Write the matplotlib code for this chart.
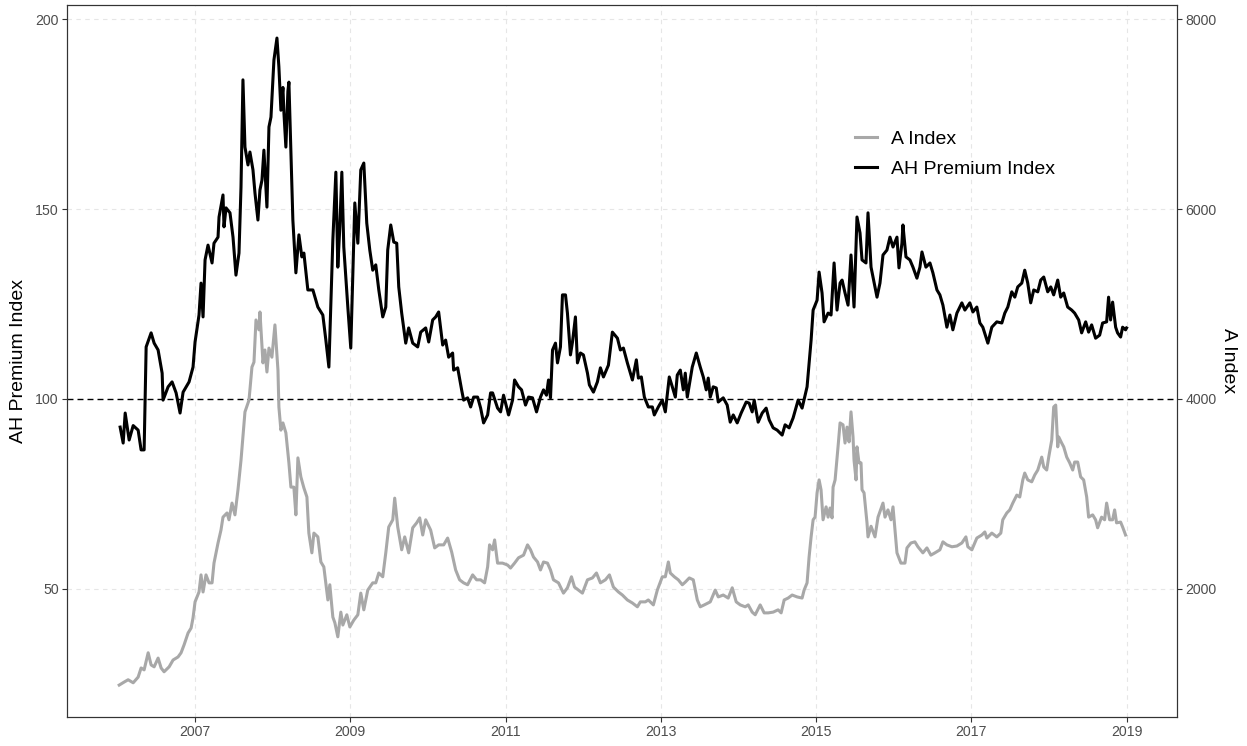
import matplotlib
matplotlib.use("Agg")
import matplotlib.pyplot as plt

plt.rcParams['font.family'] = ['Liberation Sans', 'DejaVu Sans']

# AH Premium Index (left axis)
ah_dates = [2006.035, 2006.074, 2006.100, 2006.151, 2006.203, 2006.267, 2006.305, 2006.344, 2006.370, 2006.434,
            2006.473, 2006.524, 2006.576, 2006.588, 2006.653, 2006.704, 2006.756, 2006.807, 2006.846, 2006.923,
            2006.974, 2007.000, 2007.051, 2007.077, 2007.103, 2007.129, 2007.167, 2007.219, 2007.244, 2007.296,
            2007.309, 2007.360, 2007.373, 2007.399, 2007.450, 2007.489, 2007.527, 2007.566, 2007.592, 2007.617,
            2007.643, 2007.682, 2007.707, 2007.746, 2007.772, 2007.810, 2007.836, 2007.862, 2007.887, 2007.926,
            2007.952, 2007.978, 2008.016, 2008.055, 2008.080, 2008.106, 2008.132, 2008.145, 2008.170, 2008.196,
            2008.209, 2008.222, 2008.260, 2008.299, 2008.338, 2008.376, 2008.402, 2008.453, 2008.518, 2008.582,
            2008.646, 2008.685, 2008.724, 2008.775, 2008.814, 2008.839, 2008.865, 2008.891, 2008.916, 2008.968,
            2009.006, 2009.058, 2009.097, 2009.135, 2009.174, 2009.212, 2009.251, 2009.289, 2009.328, 2009.367,
            2009.418, 2009.457, 2009.482, 2009.521, 2009.560, 2009.598, 2009.624, 2009.662, 2009.714, 2009.752,
            2009.804, 2009.868, 2009.907, 2009.971, 2010.010, 2010.061, 2010.100, 2010.138, 2010.190, 2010.228,
            2010.267, 2010.318, 2010.331, 2010.383, 2010.434, 2010.460, 2010.511, 2010.550, 2010.589, 2010.640,
            2010.679, 2010.717, 2010.769, 2010.807, 2010.833, 2010.897, 2010.936, 2010.974, 2011.039, 2011.090,
            2011.116, 2011.167, 2011.206, 2011.257, 2011.296, 2011.347, 2011.399, 2011.450, 2011.489, 2011.527,
            2011.553, 2011.579, 2011.605, 2011.643, 2011.669, 2011.707, 2011.733, 2011.772, 2011.797, 2011.836,
            2011.862, 2011.900, 2011.926, 2011.965, 2012.003, 2012.055, 2012.080, 2012.132, 2012.183, 2012.222,
            2012.261, 2012.325, 2012.376, 2012.441, 2012.479, 2012.518, 2012.569, 2012.634, 2012.685, 2012.711,
            2012.749, 2012.788, 2012.839, 2012.891, 2012.916, 2012.968, 2013.019, 2013.058, 2013.109, 2013.148,
            2013.187, 2013.212, 2013.251, 2013.290, 2013.315, 2013.341, 2013.405, 2013.457, 2013.508, 2013.547,
            2013.585, 2013.611, 2013.637, 2013.675, 2013.714, 2013.740, 2013.804, 2013.855, 2013.894, 2013.933,
            2013.984, 2014.035, 2014.100, 2014.138, 2014.177, 2014.203, 2014.254, 2014.306, 2014.357, 2014.396,
            2014.447, 2014.499, 2014.563, 2014.601, 2014.653, 2014.704, 2014.769, 2014.820, 2014.884, 2014.936,
            2014.962, 2015.013, 2015.039, 2015.077, 2015.103, 2015.155, 2015.193, 2015.232, 2015.270, 2015.309,
            2015.335, 2015.373, 2015.412, 2015.450, 2015.489, 2015.527, 2015.566, 2015.592, 2015.643, 2015.669,
            2015.708, 2015.733, 2015.785, 2015.823, 2015.862, 2015.913, 2015.952, 2015.991, 2016.042, 2016.068,
            2016.106, 2016.119, 2016.158, 2016.209, 2016.248, 2016.299, 2016.338, 2016.364, 2016.415, 2016.467,
            2016.505, 2016.557, 2016.595, 2016.634, 2016.685, 2016.724, 2016.762, 2016.814, 2016.878, 2016.917,
            2016.981, 2017.020, 2017.071, 2017.110, 2017.148, 2017.213, 2017.264, 2017.328, 2017.393, 2017.431,
            2017.470, 2017.521, 2017.560, 2017.598, 2017.650, 2017.688, 2017.727, 2017.765, 2017.804, 2017.856,
            2017.894, 2017.933, 2017.984, 2018.023, 2018.061, 2018.113, 2018.151, 2018.190, 2018.241, 2018.293,
            2018.331, 2018.383, 2018.421, 2018.473, 2018.511, 2018.550, 2018.601, 2018.653, 2018.691, 2018.743,
            2018.768, 2018.794, 2018.820, 2018.859, 2018.884, 2018.923, 2018.949, 2018.987, 2019.000]
ah_values = [92.6, 88.4, 96.3, 89.2, 93.0, 91.8, 86.6, 86.6, 113.7, 117.4,
             114.7, 112.9, 106.8, 99.7, 103.2, 104.5, 101.6, 96.3, 101.8, 104.5,
             108.4, 115.0, 122.1, 130.5, 121.6, 136.6, 140.5, 135.8, 141.0, 142.6,
             147.9, 153.7, 145.3, 150.3, 149.0, 142.6, 132.6, 138.4, 155.8, 184.0,
             166.3, 161.6, 165.0, 160.3, 154.2, 147.1, 155.0, 157.6, 165.5, 150.5,
             171.6, 174.2, 189.2, 195.0, 187.4, 176.0, 182.0, 175.3, 166.3, 181.0,
             183.4, 174.2, 147.1, 133.2, 143.2, 137.4, 138.4, 128.7, 128.7, 124.2,
             122.1, 115.5, 108.4, 141.8, 159.7, 134.7, 145.3, 159.7, 140.0, 124.2,
             113.4, 151.6, 141.0, 160.3, 162.1, 146.3, 139.2, 133.9, 135.3, 128.7,
             121.6, 124.2, 139.2, 145.8, 141.3, 141.0, 129.5, 122.6, 114.7, 118.7,
             114.7, 113.7, 117.6, 118.7, 115.0, 120.8, 121.6, 122.9, 114.2, 115.5,
             111.0, 112.1, 107.6, 108.2, 102.4, 99.7, 100.3, 97.9, 100.5, 100.5,
             97.6, 93.7, 95.8, 101.6, 101.6, 97.6, 96.6, 101.0, 95.8, 99.7,
             105.0, 103.2, 102.4, 98.4, 100.5, 100.3, 96.6, 100.5, 102.4, 101.0,
             105.0, 100.3, 112.9, 114.7, 109.5, 113.7, 127.4, 127.4, 122.6, 111.6,
             115.0, 121.6, 109.5, 112.1, 111.6, 106.8, 103.7, 101.8, 104.5, 108.2,
             105.8, 108.9, 117.6, 116.0, 112.9, 113.4, 109.5, 105.0, 110.3, 105.5,
             105.8, 100.5, 97.9, 97.9, 95.8, 97.9, 99.7, 96.6, 105.8, 103.2,
             100.5, 106.3, 107.6, 102.4, 106.8, 100.5, 108.4, 112.1, 108.4, 105.8,
             102.4, 105.5, 100.5, 103.2, 102.9, 99.2, 100.3, 98.4, 93.9, 95.8,
             93.7, 96.3, 99.2, 98.9, 96.6, 99.7, 93.9, 96.3, 97.6, 94.5,
             92.4, 91.8, 90.5, 93.2, 92.4, 95.0, 99.7, 97.6, 103.2, 115.5,
             123.4, 126.0, 133.4, 127.9, 120.3, 122.6, 122.1, 135.8, 123.4, 130.5,
             131.3, 127.9, 124.7, 137.9, 124.2, 147.9, 143.7, 136.6, 135.8, 149.0,
             134.7, 132.1, 126.8, 130.5, 137.9, 139.2, 142.6, 140.0, 142.6, 134.5,
             141.0, 145.8, 137.4, 136.6, 134.7, 131.8, 134.7, 138.7, 134.7, 135.8,
             133.2, 128.7, 127.4, 124.7, 118.9, 122.1, 118.2, 122.6, 125.3, 123.4,
             125.3, 122.9, 124.2, 120.0, 118.9, 114.7, 118.9, 120.3, 120.0, 122.6,
             124.2, 128.2, 126.8, 129.5, 130.5, 133.9, 130.5, 125.3, 128.7, 128.2,
             131.3, 132.1, 128.2, 129.5, 127.4, 131.3, 126.8, 127.9, 124.2, 123.4,
             122.6, 120.8, 117.4, 120.3, 117.6, 119.5, 116.0, 116.8, 120.0, 120.3,
             126.8, 120.8, 125.5, 118.9, 117.4, 116.3, 118.9, 118.2, 118.7]

# A Index (right axis)
a_dates = [2006.023, 2006.087, 2006.138, 2006.203, 2006.267, 2006.305, 2006.344, 2006.396, 2006.434, 2006.473,
           2006.524, 2006.563, 2006.601, 2006.666, 2006.717, 2006.781, 2006.820, 2006.859, 2006.910, 2006.949,
           2006.974, 2007.000, 2007.051, 2007.077, 2007.103, 2007.141, 2007.180, 2007.219, 2007.244, 2007.296,
           2007.334, 2007.360, 2007.412, 2007.437, 2007.476, 2007.514, 2007.553, 2007.592, 2007.617, 2007.643,
           2007.695, 2007.733, 2007.759, 2007.785, 2007.823, 2007.836, 2007.875, 2007.900, 2007.926, 2007.952,
           2007.990, 2008.029, 2008.068, 2008.080, 2008.106, 2008.132, 2008.170, 2008.209, 2008.235, 2008.273,
           2008.299, 2008.325, 2008.363, 2008.402, 2008.441, 2008.466, 2008.505, 2008.531, 2008.582, 2008.621,
           2008.659, 2008.711, 2008.736, 2008.775, 2008.801, 2008.839, 2008.878, 2008.904, 2008.955, 2008.994,
           2009.045, 2009.097, 2009.135, 2009.174, 2009.225, 2009.289, 2009.328, 2009.367, 2009.418, 2009.457,
           2009.495, 2009.547, 2009.572, 2009.611, 2009.662, 2009.701, 2009.752, 2009.804, 2009.855, 2009.894,
           2009.933, 2009.971, 2010.035, 2010.087, 2010.138, 2010.203, 2010.254, 2010.306, 2010.357, 2010.408,
           2010.460, 2010.511, 2010.576, 2010.627, 2010.679, 2010.730, 2010.769, 2010.794, 2010.833, 2010.859,
           2010.897, 2010.961, 2011.026, 2011.064, 2011.116, 2011.167, 2011.232, 2011.283, 2011.322, 2011.360,
           2011.412, 2011.450, 2011.489, 2011.540, 2011.579, 2011.617, 2011.682, 2011.746, 2011.797, 2011.849,
           2011.888, 2011.939, 2011.990, 2012.055, 2012.119, 2012.171, 2012.222, 2012.286, 2012.338, 2012.389,
           2012.454, 2012.505, 2012.569, 2012.634, 2012.698, 2012.736, 2012.801, 2012.839, 2012.904, 2012.955,
           2013.019, 2013.058, 2013.097, 2013.122, 2013.174, 2013.225, 2013.277, 2013.315, 2013.367, 2013.418,
           2013.470, 2013.508, 2013.560, 2013.637, 2013.701, 2013.740, 2013.804, 2013.868, 2013.920, 2013.971,
           2014.023, 2014.087, 2014.126, 2014.177, 2014.216, 2014.280, 2014.331, 2014.383, 2014.447, 2014.511,
           2014.550, 2014.589, 2014.640, 2014.692, 2014.756, 2014.820, 2014.846, 2014.884, 2014.910, 2014.936,
           2014.962, 2014.987, 2015.013, 2015.039, 2015.064, 2015.090, 2015.129, 2015.155, 2015.180, 2015.206,
           2015.219, 2015.245, 2015.283, 2015.309, 2015.347, 2015.373, 2015.399, 2015.425, 2015.450, 2015.476,
           2015.489, 2015.515, 2015.527, 2015.553, 2015.579, 2015.592, 2015.618, 2015.656, 2015.669, 2015.708,
           2015.759, 2015.798, 2015.862, 2015.888, 2015.926, 2015.965, 2015.991, 2016.016, 2016.042, 2016.093,
           2016.145, 2016.171, 2016.222, 2016.273, 2016.312, 2016.376, 2016.428, 2016.479, 2016.531, 2016.595,
           2016.634, 2016.685, 2016.750, 2016.814, 2016.878, 2016.930, 2016.955, 2017.007, 2017.071, 2017.135,
           2017.174, 2017.200, 2017.264, 2017.328, 2017.380, 2017.405, 2017.457, 2017.495, 2017.534, 2017.586,
           2017.624, 2017.663, 2017.688, 2017.727, 2017.778, 2017.817, 2017.856, 2017.907, 2017.933, 2017.971,
           2017.997, 2018.036, 2018.061, 2018.087, 2018.113, 2018.126, 2018.164, 2018.190, 2018.229, 2018.267,
           2018.306, 2018.331, 2018.370, 2018.408, 2018.447, 2018.486, 2018.511, 2018.563, 2018.601, 2018.627,
           2018.678, 2018.717, 2018.743, 2018.782, 2018.820, 2018.846, 2018.871, 2018.923, 2018.949, 2018.987]
a_values = [988, 1020, 1044, 1012, 1072, 1168, 1148, 1328, 1200, 1180,
            1272, 1168, 1128, 1180, 1252, 1284, 1328, 1412, 1536, 1588,
            1696, 1864, 1968, 2148, 1968, 2148, 2064, 2064, 2272, 2484,
            2620, 2756, 2800, 2728, 2904, 2780, 3044, 3356, 3600, 3864,
            3988, 4336, 4388, 4832, 4728, 4916, 4380, 4516, 4284, 4536,
            4440, 4780, 4304, 3916, 3672, 3748, 3644, 3328, 3072, 3072,
            2780, 3380, 3180, 3064, 2968, 2588, 2380, 2588, 2548, 2284,
            2232, 1884, 2044, 1704, 1644, 1496, 1756, 1620, 1728, 1600,
            1672, 1728, 1956, 1780, 1988, 2064, 2064, 2168, 2128, 2380,
            2652, 2728, 2956, 2652, 2412, 2548, 2380, 2644, 2696, 2748,
            2568, 2728, 2620, 2432, 2464, 2464, 2536, 2388, 2200, 2096,
            2064, 2044, 2148, 2096, 2096, 2064, 2232, 2464, 2412, 2516,
            2272, 2272, 2252, 2220, 2272, 2328, 2356, 2464, 2412, 2336,
            2284, 2200, 2284, 2272, 2200, 2096, 2064, 1956, 2012, 2128,
            2020, 1988, 1956, 2096, 2116, 2168, 2064, 2096, 2148, 2020,
            1968, 1936, 1884, 1852, 1812, 1864, 1864, 1884, 1832, 1988,
            2128, 2128, 2284, 2168, 2128, 2096, 2044, 2072, 2116, 2096,
            1884, 1812, 1832, 1864, 1988, 1916, 1936, 1904, 2012, 1864,
            1832, 1812, 1832, 1756, 1728, 1832, 1748, 1748, 1756, 1780,
            1748, 1884, 1904, 1936, 1916, 1904, 1988, 2064, 2336, 2548,
            2728, 2756, 3012, 3148, 3044, 2728, 2864, 2756, 2852, 2748,
            3072, 3148, 3496, 3748, 3728, 3536, 3704, 3548, 3864, 3600,
            3356, 3148, 3496, 3328, 3328, 3044, 3012, 2696, 2548, 2660,
            2548, 2756, 2904, 2756, 2832, 2728, 2864, 2620, 2380, 2272,
            2272, 2432, 2484, 2496, 2444, 2380, 2432, 2356, 2380, 2412,
            2496, 2464, 2444, 2452, 2484, 2548, 2444, 2412, 2536, 2568,
            2600, 2536, 2588, 2548, 2588, 2728, 2800, 2832, 2904, 2988,
            2968, 3148, 3220, 3148, 3128, 3200, 3252, 3388, 3284, 3252,
            3388, 3568, 3916, 3936, 3496, 3600, 3536, 3496, 3388, 3328,
            3252, 3336, 3336, 3180, 3148, 2968, 2756, 2780, 2728, 2644,
            2756, 2728, 2904, 2728, 2728, 2832, 2696, 2704, 2652, 2568]

assert len(ah_dates) == len(ah_values), (len(ah_dates), len(ah_values))
assert len(a_dates) == len(a_values), (len(a_dates), len(a_values))

x_ticks = [2007, 2009, 2011, 2013, 2015, 2017, 2019]
left_ticks = [50, 100, 150, 200]
right_ticks = [2000, 4000, 6000, 8000]
parity_level = 100
ratio = 40  # right axis = left axis * 40

GRID = '#E6E6E6'
TXT = '#4D4D4D'
FRAME = '#333333'

fig = plt.figure(figsize=(12.47, 7.46), dpi=100)
ax = fig.add_axes([0.0537, 0.0389, 0.8902, 0.9544])
ax2 = ax.twinx()

ax.set_xlim(2005.35, 2019.65)
ylo, yhi = 16.3, 203.7
ax.set_ylim(ylo, yhi)
ax2.set_ylim(ylo * ratio, yhi * ratio)

for xv in x_ticks:
    ax.axvline(xv, color=GRID, lw=0.8, ls=(0, (4, 4)), zorder=0)
for yv in left_ticks:
    if yv != parity_level:
        ax.axhline(yv, color=GRID, lw=0.8, ls=(0, (4, 4)), zorder=0)

ax.axhline(parity_level, color='black', lw=1.0, ls=(0, (4.3, 2.9)), zorder=2)

line_ah, = ax.plot(ah_dates, ah_values, color='black', lw=2.2, zorder=3,
                   solid_joinstyle='round', label='AH Premium Index')
line_a, = ax2.plot(a_dates, a_values, color='#A8A8A8', lw=2.2, zorder=3,
                   solid_joinstyle='round', label='A Index')

ax.set_xticks(x_ticks)
ax.set_xticklabels([str(v) for v in x_ticks])
ax.set_yticks(left_ticks)
ax2.set_yticks(right_ticks)

for a in (ax, ax2):
    a.tick_params(axis='both', colors=FRAME, labelcolor=TXT, labelsize=10.2,
                  length=3.5, width=0.8, pad=2.5)
    for s in a.spines.values():
        s.set_color(FRAME)
        s.set_linewidth(0.8)

ax.set_ylabel('AH Premium Index', fontsize=14, color='black', labelpad=6)
ax2.set_ylabel('A Index', fontsize=14, color='black', rotation=270, labelpad=15)

leg = ax2.legend(handles=[line_a, line_ah], labels=['A Index', 'AH Premium Index'],
                 loc='center left', bbox_to_anchor=(855 / 1247, 1 - 154 / 746),
                 bbox_transform=fig.transFigure, frameon=False, fontsize=14,
                 handlelength=1.15, handletextpad=0.7, labelspacing=0.62,
                 borderpad=0, borderaxespad=0)

fig.savefig('out.png', dpi=100)
